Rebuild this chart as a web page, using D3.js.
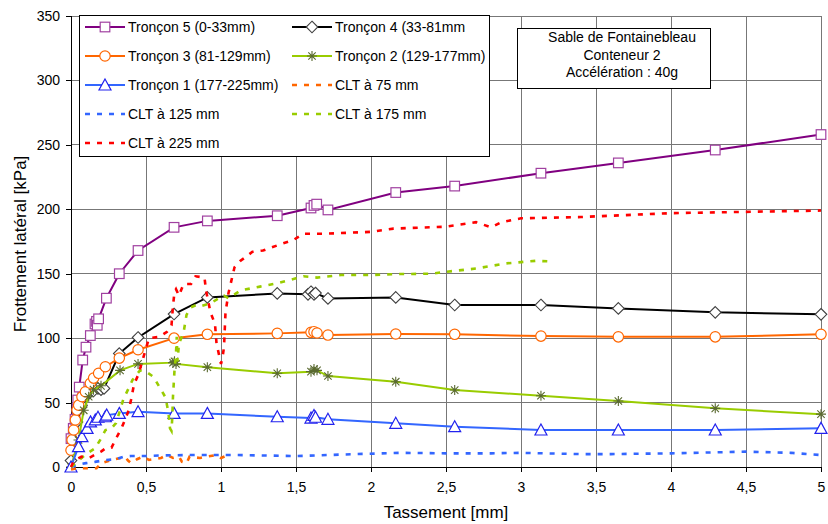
<!DOCTYPE html>
<html><head><meta charset="utf-8">
<script src="https://cdn.jsdelivr.net/npm/d3@7"></script>
<style>body{margin:0;background:#fff}svg{display:block;font-family:"Liberation Sans",Arial,sans-serif}</style>
</head><body><svg id="c" width="828" height="524"></svg>
<script>
// ---------- DATA ----------
const xTicks = [0,0.5,1,1.5,2,2.5,3,3.5,4,4.5,5];
const xTickLabels = ["0","0,5","1","1,5","2","2,5","3","3,5","4","4,5","5"];
const yTicks = [0,50,100,150,200,250,300,350];
const seriesNames = ["Tronçon 5 (0-33mm)","Tronçon 4 (33-81mm","Tronçon 3 (81-129mm)","Tronçon 2 (129-177mm)","Tronçon 1 (177-225mm)","CLT à 75 mm","CLT à 125 mm","CLT à 175 mm","CLT à 225 mm"];
const infoLines = ["Sable de Fontainebleau","Conteneur 2","Accélération : 40g"];

const troncon5 = [[0,22],[0.015,30],[0.027,37],[0.04,45],[0.045,52],[0.055,62],[0.078,83],[0.1,93],[0.129,102],[0.16,111],[0.17,113],[0.175,110],[0.184,115],[0.236,131],[0.322,150],[0.447,168],[0.687,186],[0.909,191],[1.375,195],[1.6,201],[1.62,203],[1.638,204],[1.713,199.5],[2.165,213],[2.558,218],[3.133,228],[3.649,236],[4.295,246],[5.0,258]];
const troncon4 = [[0,5],[0.018,21],[0.04,35],[0.07,48],[0.1,55],[0.15,59],[0.18,61],[0.2,60],[0.22,61],[0.322,88],[0.447,100.5],[0.687,118.7],[0.909,131.6],[1.375,134.7],[1.58,134],[1.6,136],[1.62,134],[1.63,135],[1.713,130.8],[2.165,131.6],[2.558,125.7],[3.133,125.7],[3.649,123.1],[4.295,120],[5.0,118.5]];
const troncon3 = [[0,13],[0.007,21],[0.018,28.7],[0.029,36.5],[0.04,44.2],[0.051,48],[0.073,54.5],[0.096,58.4],[0.129,65],[0.151,69],[0.184,72.7],[0.229,77.8],[0.322,84.5],[0.447,91],[0.687,100],[0.909,103],[1.375,103.7],[1.6,104.5],[1.62,105],[1.64,104],[1.713,102.4],[2.165,103.2],[2.558,103],[3.133,101.6],[3.649,101],[4.295,101],[5.0,103]];
const troncon2 = [[0,0],[0.05,21],[0.085,44],[0.118,54.5],[0.15,60],[0.2,63],[0.327,75],[0.447,80],[0.68,81],[0.69,82],[0.7,80],[0.909,77.5],[1.375,72.7],[1.6,74],[1.62,76],[1.64,75],[1.713,70.6],[2.165,66.2],[2.558,59.7],[3.133,55.3],[3.649,51.2],[4.295,45.5],[5.0,41]];
const troncon1 = [[0,0],[0.05,15.8],[0.073,23.5],[0.107,30],[0.13,35],[0.162,36.5],[0.18,38.6],[0.229,39],[0.238,40.3],[0.322,41.6],[0.447,42.9],[0.687,41.6],[0.909,41.6],[1.375,39],[1.6,38],[1.62,40],[1.63,38.6],[1.713,37],[2.165,33.9],[2.558,31.3],[3.133,28.7],[3.649,28.7],[4.295,28.7],[5.0,30]];
const clt75 = [[0,-2],[0.04,-1],[0.1,-1],[0.17,-1],[0.2,3],[0.27,5.4],[0.33,7],[0.36,8],[0.38,5],[0.4,3],[0.44,6],[0.48,8],[0.52,5.5],[0.55,6],[0.6,7],[0.64,9.3],[0.68,7],[0.72,8],[0.74,4],[0.77,2.8],[0.79,8],[0.86,7],[0.9,8],[0.97,9.3],[1.0,7],[1.03,8.5],[1.06,7]];
const clt125 = [[0,0],[0.05,2],[0.1,3],[0.16,4],[0.23,5.4],[0.3,6],[0.35,8],[0.4,8.5],[0.5,8.5],[0.6,9],[0.8,9.3],[1.0,9.3],[1.1,9.3],[1.5,8.5],[1.9,10],[2.2,11],[2.5,10.6],[2.8,10.6],[3.0,11],[3.4,10],[3.6,10],[4.0,10.6],[4.5,11.9],[4.8,11],[5.0,9.3]];
const clt175 = [[0,0],[0.05,5],[0.1,10],[0.16,14.5],[0.2,22],[0.23,28.7],[0.27,30],[0.3,34],[0.33,45],[0.35,53],[0.38,60],[0.41,67.5],[0.46,75],[0.5,74],[0.55,70],[0.59,62],[0.63,54],[0.65,42],[0.66,30],[0.67,28],[0.675,38],[0.68,55],[0.69,75],[0.7,88],[0.705,101],[0.71,82],[0.72,96],[0.75,104],[0.77,118],[0.8,124],[0.84,126],[0.87,125],[0.93,127],[1.0,132],[1.02,133],[1.05,131],[1.13,137],[1.26,140],[1.37,142.5],[1.5,146.4],[1.55,148],[1.64,147],[1.8,149],[2.0,149],[2.17,149.7],[2.4,150],[2.5,151.5],[2.7,154],[2.9,158],[3.0,159],[3.1,160],[3.2,159.5]];
const clt225 = [[0,0],[0.02,5],[0.07,8],[0.12,7],[0.2,12],[0.23,14.5],[0.27,15],[0.3,22],[0.34,31],[0.385,44],[0.4,52],[0.42,64],[0.45,72],[0.47,80],[0.5,92],[0.52,100],[0.59,101],[0.64,105],[0.67,110],[0.68,125],[0.69,136],[0.7,138],[0.72,133],[0.75,142],[0.8,142],[0.83,148],[0.89,147],[0.9,137],[0.93,120],[0.96,111],[0.97,96],[1.0,80],[1.01,85],[1.02,93],[1.03,120],[1.05,135],[1.07,145],[1.09,155],[1.13,160],[1.21,167],[1.28,168],[1.4,173],[1.48,176],[1.55,181],[1.68,181],[2.0,182.5],[2.15,185],[2.5,186.5],[2.7,190],[2.8,186],[2.87,190],[3.0,193],[3.4,194],[3.7,195.5],[4.0,197],[4.5,198],[5.0,199]];

// ---------- CHART ----------
const svg = d3.select("#c");
const x = d3.scaleLinear().domain([0,5]).range([71,821]);
const y = d3.scaleLinear().domain([0,350]).range([467,16]);

// grid
svg.append("g").selectAll("line").data(xTicks.slice(1)).join("line")
  .attr("x1",d=>x(d)).attr("x2",d=>x(d)).attr("y1",y(350)).attr("y2",y(0))
  .attr("stroke","#777").attr("stroke-width",1).attr("shape-rendering","crispEdges");
svg.append("g").selectAll("line").data(yTicks.slice(1)).join("line")
  .attr("x1",x(0)).attr("x2",x(5)).attr("y1",d=>y(d)).attr("y2",d=>y(d))
  .attr("stroke","#777").attr("stroke-width",1).attr("shape-rendering","crispEdges");

// axes
const fmtX = d => xTickLabels[xTicks.indexOf(d)];
const gx = svg.append("g").attr("transform",`translate(0,${y(0)})`)
  .call(d3.axisBottom(x).tickValues(xTicks).tickFormat(fmtX).tickSize(5).tickPadding(10));
const gy = svg.append("g").attr("transform",`translate(${x(0)},0)`)
  .call(d3.axisLeft(y).tickValues(yTicks).tickSize(5).tickPadding(6));
[gx,gy].forEach(g=>{
  g.select(".domain").attr("stroke","#000").attr("shape-rendering","crispEdges");
  g.selectAll(".tick line").attr("stroke","#000").attr("shape-rendering","crispEdges");
  g.selectAll("text").attr("font-size",14).attr("font-family","Liberation Sans, Arial, sans-serif").attr("fill","#000");
});

// axis titles
svg.append("text").attr("x",446).attr("y",518).attr("text-anchor","middle")
  .attr("font-size",17).text("Tassement [mm]");
svg.append("text").attr("transform","translate(26,244) rotate(-90)").attr("text-anchor","middle")
  .attr("font-size",17).text("Frottement latéral [kPa]");

const line = d3.line().x(d=>x(d[0])).y(d=>y(d[1]));

// marker painters
function marker(g, type, color, cx, cy){
  const s = 4.8;
  if(type==="square"){
    g.append("rect").attr("x",cx-s).attr("y",cy-s).attr("width",2*s).attr("height",2*s)
      .attr("fill","#fff").attr("stroke",color).attr("stroke-width",1.2);
  } else if(type==="diamond"){
    g.append("path").attr("d",`M${cx},${cy-5.8}L${cx+5.8},${cy}L${cx},${cy+5.8}L${cx-5.8},${cy}Z`)
      .attr("fill","#fff").attr("stroke",color).attr("stroke-width",1.1);
  } else if(type==="circle"){
    g.append("circle").attr("cx",cx).attr("cy",cy).attr("r",5.2)
      .attr("fill","#fff").attr("stroke",color).attr("stroke-width",1.2);
  } else if(type==="triangle"){
    g.append("path").attr("d",`M${cx},${cy-6}L${cx+6},${cy+5}L${cx-6},${cy+5}Z`)
      .attr("fill","#fff").attr("stroke",color).attr("stroke-width",1.2);
  } else if(type==="star"){
    const r=5, d=3.7;
    g.append("path").attr("d",`M${cx},${cy-r}V${cy+r}M${cx-d},${cy-d}L${cx+d},${cy+d}M${cx+d},${cy-d}L${cx-d},${cy+d}M${cx-r},${cy}H${cx+r}`)
      .attr("fill","none").attr("stroke",color).attr("stroke-width",1.1);
  }
}

const solid = [
  {data:troncon5, color:"#800080", mcolor:"#a040a0", m:"square"},
  {data:troncon4, color:"#000000", mcolor:"#404040", m:"diamond"},
  {data:troncon3, color:"#ff6600", mcolor:"#ff6600", m:"circle"},
  {data:troncon2, color:"#99cc00", mcolor:"#5a6a30", m:"star"},
  {data:troncon1, color:"#3366ff", mcolor:"#2222ee", m:"triangle"}
];
const dashed = [
  {data:clt75, color:"#ff6600"},
  {data:clt125, color:"#3366ff"},
  {data:clt175, color:"#99cc00"},
  {data:clt225, color:"#ff0000"}
];

solid.forEach(s=>{
  const g = svg.append("g");
  g.append("path").datum(s.data).attr("d",line).attr("fill","none")
    .attr("stroke",s.color).attr("stroke-width",2);
  s.data.forEach(p=>marker(g,s.m,s.mcolor,x(p[0]),y(p[1])));
});
dashed.forEach(s=>{
  svg.append("path").datum(s.data).attr("d",line).attr("fill","none")
    .attr("stroke",s.color).attr("stroke-width",2.6).attr("stroke-dasharray","5,7");
});

// legend
const lg = svg.append("g");
lg.append("rect").attr("x",79.5).attr("y",15.5).attr("width",410).attr("height",141)
  .attr("fill","#fff").attr("stroke","#000").attr("stroke-width",1);
const legendItems = [
  {name:seriesNames[0], s:solid[0]}, {name:seriesNames[1], s:solid[1]},
  {name:seriesNames[2], s:solid[2]}, {name:seriesNames[3], s:solid[3]},
  {name:seriesNames[4], s:solid[4]}, {name:seriesNames[5], s:dashed[0]},
  {name:seriesNames[6], s:dashed[1]}, {name:seriesNames[7], s:dashed[2]},
  {name:seriesNames[8], s:dashed[3]}
];
legendItems.forEach((it,i)=>{
  const col = i%2, row = Math.floor(i/2);
  const x0 = col===0 ? 85 : 292, x1 = x0+40, cy = 27+row*29;
  const g = lg.append("g");
  if(it.s.m){
    g.append("line").attr("x1",x0).attr("x2",x1).attr("y1",cy).attr("y2",cy)
      .attr("stroke",it.s.color).attr("stroke-width",2);
    marker(g,it.s.m,it.s.mcolor,(x0+x1)/2,cy);
  } else {
    g.append("line").attr("x1",x0).attr("x2",x1).attr("y1",cy).attr("y2",cy)
      .attr("stroke",it.s.color).attr("stroke-width",2.6).attr("stroke-dasharray","5,7");
  }
  g.append("text").attr("x",x1+3).attr("y",cy+5).attr("font-size",14).attr("fill","#000").text(it.name);
});

// info box
const ib = svg.append("g");
ib.append("rect").attr("x",517.5).attr("y",28.5).attr("width",193).attr("height",60)
  .attr("fill","#fff").attr("stroke","#000").attr("stroke-width",1);
infoLines.forEach((t,i)=>{
  ib.append("text").attr("x",622).attr("y",42+i*17.5).attr("text-anchor","middle")
    .attr("font-size",14).attr("fill","#000").text(t);
});
</script></body></html>
